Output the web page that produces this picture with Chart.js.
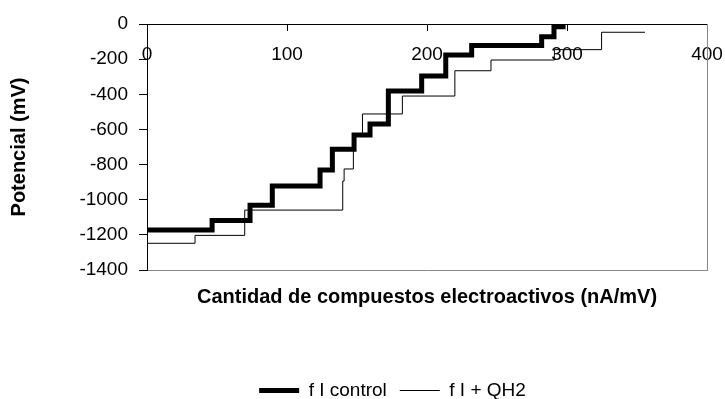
<!DOCTYPE html>
<html>
<head>
<meta charset="utf-8">
<title>Potencial</title>
<script src="https://cdn.jsdelivr.net/npm/chart.js@4/dist/chart.umd.min.js"></script>
<style>
  html, body { margin: 0; padding: 0; background: #fff; }
</style>
</head>
<body>
<canvas id="potencial" width="725" height="399"></canvas>
<script>
'use strict';

const seriesNames = ['f I control', 'f I + QH2'];

// each point starts a step: x in nA/mV, potential in mV
const controlX = [0, 46.5, 73.6, 89.5, 123.6, 132.4, 147.9, 159.3, 172.4, 196.2, 213.4, 231.9, 281.9, 290.7, 299];
const controlY = [-1172, -1118, -1032, -922, -831, -713, -632, -569, -381, -296, -176, -123, -72, -15, -15];
const qh2X = [0, 34.3, 69.8, 139.8, 140.8, 147.4, 153.9, 182.4, 219.9, 245.7, 291, 324.7, 355.7];
const qh2Y = [-1248, -1203, -1059, -894, -825, -632, -512, -410, -266, -205, -146, -47, -47];

const xTicks = [0, 100, 200, 300, 400];
const yTicks = [0, -200, -400, -600, -800, -1000, -1200, -1400];

const FONT = "'Liberation Sans', Arial, sans-serif";
Chart.defaults.font.family = FONT;
Chart.defaults.color = '#000';

function toPoints(xs, ys) {
  return xs.map((x, i) => ({ x: x, y: ys[i] }));
}

// keep the edge labels from widening the layout padding
function noSidePadding(s) {
  s.paddingLeft = 0;
  s.paddingRight = 0;
}

// move the legend row below the title area
const legendShift = {
  id: 'legendShift',
  afterLayout(chart) {
    const lg = chart.legend;
    lg.left += 39;
    lg.right += 39;
    lg.top += 11;
    lg.bottom += 11;
  }
};

let chartObject = {
  type: 'line',
  data: {
    datasets: [{
      label: seriesNames[0],
      data: toPoints(controlX, controlY),
      borderColor: '#000',
      backgroundColor: '#000',
      borderWidth: 5,
      borderJoinStyle: 'miter',
      stepped: true,
      pointRadius: 0,
      xAxisID: 'x',
      yAxisID: 'y'
    }, {
      label: seriesNames[1],
      data: toPoints(qh2X, qh2Y),
      borderColor: '#000',
      backgroundColor: '#000',
      borderWidth: 1,
      stepped: true,
      pointRadius: 0,
      xAxisID: 'x',
      yAxisID: 'y'
    }]
  },
  options: {
    responsive: false,
    animation: false,
    layout: { padding: { top: 24, right: 18, left: 0, bottom: 0 } },
    plugins: {
      tooltip: { enabled: false },
      legend: {
        position: 'bottom',
        labels: {
          usePointStyle: true,
          pointStyle: 'line',
          pointStyleWidth: 40,
          padding: 13,
          color: '#000',
          font: { size: 19 }
        }
      }
    },
    scales: {
      x: {
        type: 'linear',
        position: { y: 0 },
        min: 0,
        max: 400,
        afterBuildTicks: s => { s.ticks = xTicks.map(v => ({ value: v })); },
        afterFit: noSidePadding,
        grid: { drawOnChartArea: false, tickLength: 6, color: '#000' },
        border: { color: '#000', width: 1 },
        ticks: { font: { size: 19 }, padding: 13, maxRotation: 0, autoSkip: false, color: '#000' }
      },
      xTitle: {
        type: 'linear',
        axis: 'x',
        position: 'bottom',
        min: 0,
        max: 400,
        afterFit: noSidePadding,
        grid: { display: false, drawTicks: false },
        border: { color: '#888', width: 1 },
        ticks: { display: false },
        title: {
          display: true,
          text: 'Cantidad de compuestos electroactivos (nA/mV)',
          color: '#000',
          font: { size: 20, weight: 'bold' },
          padding: { top: 15, bottom: 48 }
        }
      },
      y: {
        type: 'linear',
        position: 'left',
        min: -1400,
        max: 0,
        afterBuildTicks: s => { s.ticks = yTicks.map(v => ({ value: v })); },
        afterFit: s => { s.width = 147; },
        grid: { drawOnChartArea: false, tickLength: 8, color: '#000' },
        border: { color: '#000', width: 1 },
        ticks: { font: { size: 19 }, padding: 11, color: '#000', callback: v => String(v) },
        title: {
          display: true,
          text: 'Potencial (mV)',
          color: '#000',
          font: { size: 20, weight: 'bold' },
          padding: { top: 7, bottom: 0 }
        }
      },
      yRight: {
        type: 'linear',
        axis: 'y',
        position: 'right',
        afterFit: s => { s.width = 0; },
        grid: { display: false, drawTicks: false },
        border: { color: '#888', width: 1 },
        ticks: { display: false }
      }
    }
  },
  plugins: [legendShift]
};

let ctx = document.getElementById('potencial').getContext('2d');
let myChart = new Chart(ctx, chartObject);
</script>
</body>
</html>
